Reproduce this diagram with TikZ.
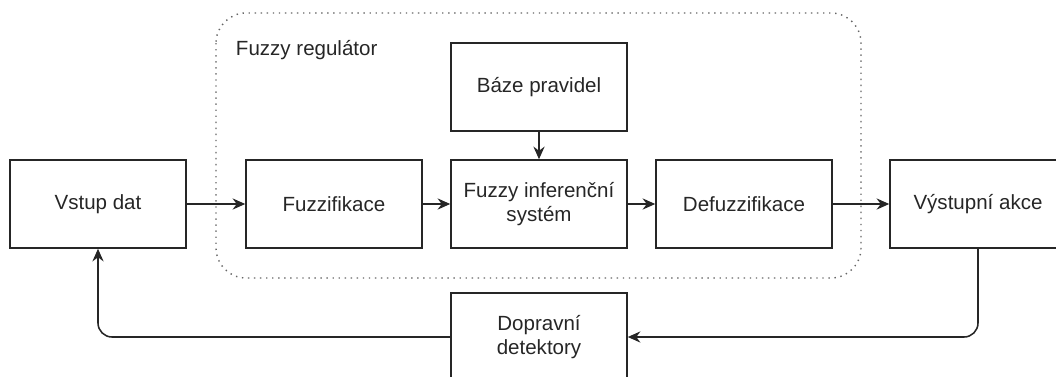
\documentclass[tikz,border=0pt]{standalone}
\usepackage{fontspec}
\setmainfont{Liberation Sans}
\usetikzlibrary{arrows.meta}

\begin{document}
\begin{tikzpicture}[
    x=0.025cm, y=-0.025cm,
    block/.style={rectangle,draw=black!85,line width=1.1pt,minimum width=4.4cm,minimum height=2.2cm,align=center,text=black!85,font=\fontsize{14.6}{17.5}\selectfont},
    flow/.style={-{Stealth[length=9pt,width=8pt,inset=3pt]},draw=black!85,line width=1.1pt},
    group/.style={draw=black!60,line width=1pt,dash pattern=on 1pt off 3.3pt,rounded corners=0.75cm},
    label/.style={text=black!85,font=\fontsize{14.6}{17.5}\selectfont},
]
\useasboundingbox (0,0) rectangle (1056,376);

    %%%
    % Fuzzy regulator frame
    \draw[group] (216,13) rectangle (861,278);
    \node[label,anchor=west] (reg) at (231,50) {Fuzzy regulátor};

    %%%
    % Blocks
    \node[block] (in) at (98,204) {Vstup dat};
    \node[block] (fuz) at (334,204) {Fuzzifikace};
    \node[block] (fis) at (539,204) {Fuzzy inferenční\\systém};
    \node[block] (rules) at (539,87) {Báze pravidel};
    \node[block] (defuz) at (744,204) {Defuzzifikace};
    \node[block] (out) at (978,204) {Výstupní akce};
    \node[block] (det) at (539,337) {Dopravní\\detektory};

    %%%
    % Connections
    \draw[flow] (in) -- (fuz);
    \draw[flow] (fuz) -- (fis);
    \draw[flow] (fis) -- (defuz);
    \draw[flow] (defuz) -- (out);
    \draw[flow] (rules) -- (fis);
    % feedback loop
    \draw[flow,rounded corners=0.35cm] (out.south) |- (det.east);
    \draw[flow,rounded corners=0.35cm] (det.west) -| (in.south);

\end{tikzpicture}
\end{document}
